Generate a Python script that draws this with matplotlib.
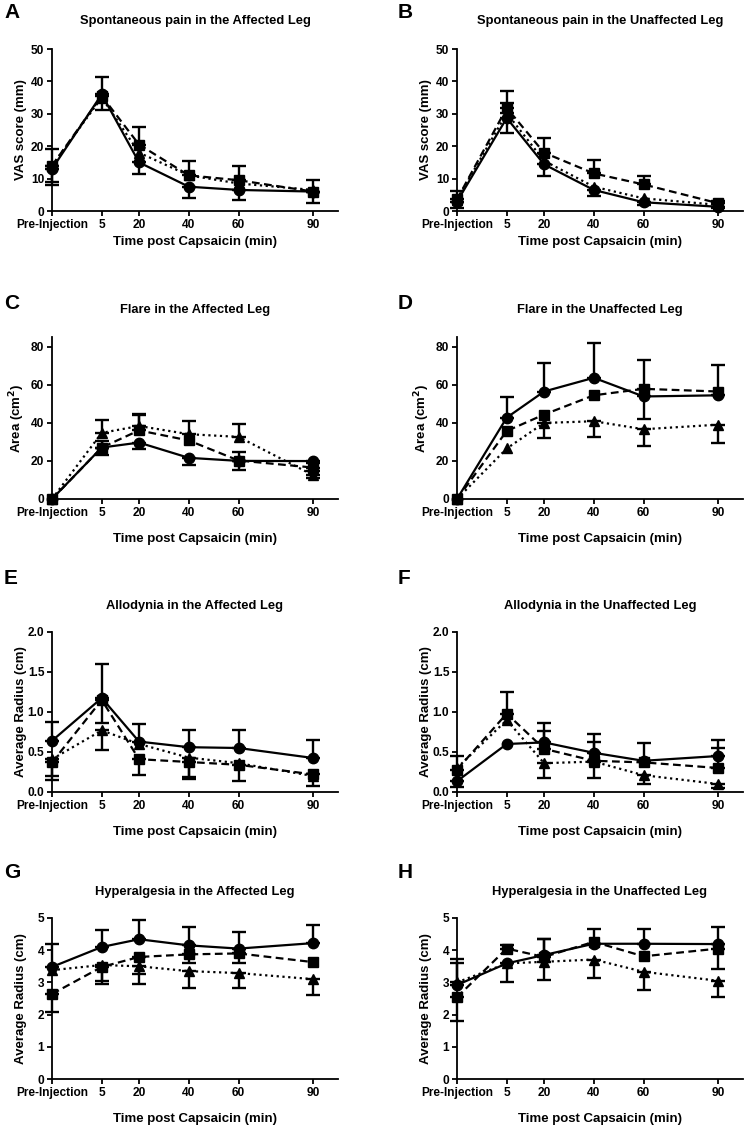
import numpy as np
import matplotlib
matplotlib.use("Agg")
import matplotlib.pyplot as plt

plt.rcParams['font.family'] = ['Liberation Sans', 'DejaVu Sans']
plt.rcParams['font.weight'] = 'bold'

# x positions of the time points (pre-injection placed left of 5 min)
times = [-15, 5, 20, 40, 60, 90]
xtick_labels = ['Pre-Injection', '5', '20', '40', '60', '90']

# signed errors: positive -> bar drawn upward, negative -> downward
# A  spontaneous pain, affected leg
a_circ = [13, 36, 15, 7.5, 6.5, 6]
a_circ_err = [-4, -4.7, -3.5, -3.5, -3, -3.5]
a_sq = [14, 35.5, 20.5, 11, 9.5, 6]
a_sq_err = [5, 6, 5.5, 4.5, 4.5, 3.5]
a_tri = [14, 35, 18, 11, 8.5, 6.5]
a_tri_err = [-6, 0, 0, 0, 0, 0]

# B  spontaneous pain, unaffected leg
b_circ = [2.9, 28.7, 14.4, 6.5, 2.7, 1.3]
b_circ_err = [-2, -4.7, -3.5, -2, -1, -0.5]
b_sq = [3.6, 31.8, 18, 11.6, 8.2, 2.4]
b_sq_err = [2.6, 5.3, 4.5, 4.2, 2.7, 0.8]
b_tri = [3.5, 30.2, 15.5, 7.5, 3.9, 1.9]
b_tri_err = [0, 3.1, 0, 0, 0, 0]

# C  flare, affected leg
c_circ = [0, 27, 29.6, 21.6, 20, 19.9]
c_circ_err = [0, -4, -3.5, -4, -5, -1]
c_sq = [0, 27, 36, 30.7, 20.2, 16.5]
c_sq_err = [0, 3.5, 8.5, 0, 4.5, -2]
c_tri = [0, 34.7, 38.3, 34, 32.6, 12.5]
c_tri_err = [0, 7, 6, 7, 7, -1.5]

# D  flare, unaffected leg
d_circ = [0, 42.7, 56.4, 63.6, 53.8, 54.4]
d_circ_err = [0, 11, 15, 18, -11.6, 16]
d_sq = [0, 35.7, 44.3, 54.4, 57.8, 56.4]
d_sq_err = [0, 0, 0, 0, 15, 0]
d_tri = [0, 26.5, 39.9, 40.8, 36.6, 39]
d_tri_err = [0, 0, -7.7, -8.2, -9, -9.6]

# E  allodynia, affected leg
e_circ = [0.64, 1.175, 0.63, 0.56, 0.55, 0.425]
e_circ_err = [0.24, 0.43, 0.22, 0.21, 0.22, 0.23]
e_sq = [0.37, 1.15, 0.41, 0.375, 0.34, 0.22]
e_sq_err = [-0.17, -0.29, -0.2, -0.19, -0.2, -0.14]
e_tri = [0.41, 0.77, 0.6, 0.43, 0.36, 0.2]
e_tri_err = [-0.26, -0.24, 0, -0.27, 0, 0]

# F  allodynia, unaffected leg
f_circ = [0.135, 0.6, 0.62, 0.49, 0.39, 0.45]
f_circ_err = [-0.07, 0, 0.24, 0.23, 0.22, 0.2]
f_sq = [0.28, 0.98, 0.54, 0.39, 0.37, 0.3]
f_sq_err = [0.17, 0.27, 0.22, 0.23, 0, 0.25]
f_tri = [0.3, 0.9, 0.36, 0.38, 0.21, 0.1]
f_tri_err = [0, 0, -0.18, -0.21, -0.11, -0.05]

# G  hyperalgesia, affected leg
g_circ = [3.48, 4.1, 4.34, 4.15, 4.05, 4.22]
g_circ_err = [0.7, 0.54, 0.6, 0.57, 0.5, 0.56]
g_sq = [2.64, 3.48, 3.79, 3.87, 3.9, 3.63]
g_sq_err = [-0.55, -0.44, -0.53, -0.27, -0.3, 0]
g_tri = [3.38, 3.54, 3.5, 3.35, 3.29, 3.1]
g_tri_err = [0, -0.6, -0.55, -0.52, -0.46, -0.49]

# H  hyperalgesia, unaffected leg
h_circ = [2.92, 3.59, 3.85, 4.2, 4.2, 4.19]
h_circ_err = [0.8, -0.57, 0.5, 0.45, 0.47, 0.53]
h_sq = [2.54, 4.05, 3.79, 4.26, 3.81, 4.05]
h_sq_err = [-0.75, 0.1, 0.57, 0, 0, -0.64]
h_tri = [3.0, 3.59, 3.64, 3.71, 3.33, 3.05]
h_tri_err = [0.6, 0, -0.57, -0.56, -0.57, -0.49]

W, H = 749, 1125
fig = plt.figure(figsize=(W / 100, H / 100), dpi=100)

col_x = [52, 457]          # left edge of axes (px)
row_y = [(49, 211), (337, 499), (632, 792), (918, 1079)]   # top, bottom (px)
ax_w = 286
letter_y = [13, 304, 578, 872]
title_y = [21, 310, 606, 892]
xlab_off = [25, 34, 34, 34]

panels = [
    ('A', 'Spontaneous pain in the Affected Leg', 'VAS score (mm)', (0, 50), [0, 10, 20, 30, 40, 50], '%d',
     (a_circ, a_circ_err), (a_sq, a_sq_err), (a_tri, a_tri_err)),
    ('B', 'Spontaneous pain in the Unaffected Leg', 'VAS score (mm)', (0, 50), [0, 10, 20, 30, 40, 50], '%d',
     (b_circ, b_circ_err), (b_sq, b_sq_err), (b_tri, b_tri_err)),
    ('C', 'Flare in the Affected Leg', 'Area (cm$^\\mathbf{2}$)', (0, 85), [0, 20, 40, 60, 80], '%d',
     (c_circ, c_circ_err), (c_sq, c_sq_err), (c_tri, c_tri_err)),
    ('D', 'Flare in the Unaffected Leg', 'Area (cm$^\\mathbf{2}$)', (0, 85), [0, 20, 40, 60, 80], '%d',
     (d_circ, d_circ_err), (d_sq, d_sq_err), (d_tri, d_tri_err)),
    ('E', 'Allodynia in the Affected Leg', 'Average Radius (cm)', (0, 2), [0, 0.5, 1.0, 1.5, 2.0], '%.1f',
     (e_circ, e_circ_err), (e_sq, e_sq_err), (e_tri, e_tri_err)),
    ('F', 'Allodynia in the Unaffected Leg', 'Average Radius (cm)', (0, 2), [0, 0.5, 1.0, 1.5, 2.0], '%.1f',
     (f_circ, f_circ_err), (f_sq, f_sq_err), (f_tri, f_tri_err)),
    ('G', 'Hyperalgesia in the Affected Leg', 'Average Radius (cm)', (0, 5), [0, 1, 2, 3, 4, 5], '%d',
     (g_circ, g_circ_err), (g_sq, g_sq_err), (g_tri, g_tri_err)),
    ('H', 'Hyperalgesia in the Unaffected Leg', 'Average Radius (cm)', (0, 5), [0, 1, 2, 3, 4, 5], '%d',
     (h_circ, h_circ_err), (h_sq, h_sq_err), (h_tri, h_tri_err)),
]

styles = [('o', 7.5, '-'), ('^', 7, (0, (1, 1.6))), ('s', 7, (0, (3.5, 2)))]


def draw_series(ax, vals, err, marker, ms, ls):
    err = np.array(err, dtype=float)
    lo = np.where(err < 0, -err, 0)
    hi = np.where(err > 0, err, 0)
    has = err != 0
    t = np.array(times)
    v = np.array(vals)
    ax.errorbar(t[has], v[has], yerr=[lo[has], hi[has]], fmt='none', ecolor='black',
                elinewidth=1.7, capsize=5, capthick=1.7, clip_on=False, zorder=3)
    ax.plot(times, vals, color='black', linestyle=ls, linewidth=1.6, marker=marker,
            markersize=ms, markerfacecolor='black', markeredgecolor='black',
            clip_on=False, zorder=4)


for i, p in enumerate(panels):
    letter, title, ylabel, ylim, yticks, yfmt = p[:6]
    series = p[6:]
    row, col = i // 2, i % 2
    top, bot = row_y[row]
    left = col_x[col]
    ax = fig.add_axes([left / W, 1 - bot / H, ax_w / W, (bot - top) / H])

    # circle, triangle, square drawn in that order (square on top)
    for (vals, err), sty in zip([series[0], series[2], series[1]], styles):
        draw_series(ax, vals, err, *sty)

    ax.set_xlim(-15, 100)
    ax.set_ylim(*ylim)
    ax.set_xticks(times)
    ax.set_xticklabels(xtick_labels)
    ax.set_yticks(yticks)
    ax.set_yticklabels([yfmt % v for v in yticks])
    for s in ['top', 'right']:
        ax.spines[s].set_visible(False)
    for s in ['left', 'bottom']:
        ax.spines[s].set_linewidth(1.3)
    ax.tick_params(axis='both', width=1.3, length=3.5, labelsize=8.6, pad=2)
    for lab in ax.get_xticklabels() + ax.get_yticklabels():
        lab.set_fontweight('bold')

    ax.set_ylabel(ylabel, fontsize=9.5, fontweight='bold')
    ax.yaxis.set_label_coords(-25 / ax_w, 0.5)
    ax.set_xlabel('Time post Capsaicin (min)', fontsize=9.5, fontweight='bold')
    ax.xaxis.set_label_coords(0.5, -xlab_off[row] / (bot - top))

    fig.text((left + ax_w / 2) / W, 1 - title_y[row] / H, title, ha='center', va='center',
             fontsize=9.3, fontweight='bold')
    fig.text((4 if col == 0 else 398) / W, 1 - letter_y[row] / H, letter, ha='left', va='center',
             fontsize=15, fontweight='bold')

fig.savefig('out.png', dpi=100)
